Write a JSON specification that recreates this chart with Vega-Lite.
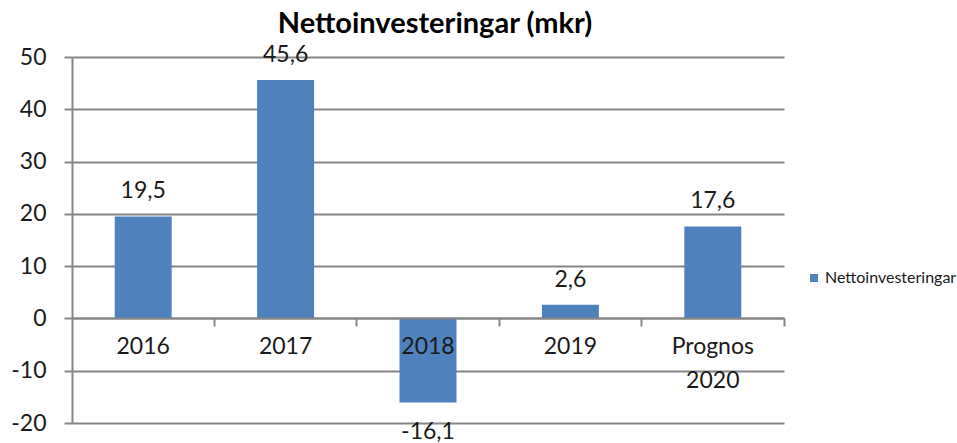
{
  "$schema": "https://vega.github.io/schema/vega-lite/v6.json",
  "autosize": {"type": "none"},
  "width": 712,
  "height": 366,
  "padding": {"left": 72, "top": 57, "right": 173, "bottom": 20},
  "background": "white",
  "title": {
    "text": "Nettoinvesteringar (mkr)",
    "font": "Lato",
    "fontSize": 29,
    "fontWeight": "bold",
    "color": "#000000",
    "anchor": "middle",
    "offset": 5,
    "dx": 7
  },
  "config": {
    "view": {"stroke": null},
    "locale": {
      "number": {"decimal": ",", "thousands": " ", "grouping": [3], "currency": ["", " kr"], "minus": "-"}
    },
    "font": "Lato"
  },
  "data": {
    "values": [
      {"year": "2016", "value": 19.5, "series": "Nettoinvesteringar"},
      {"year": "2017", "value": 45.6, "series": "Nettoinvesteringar"},
      {"year": "2018", "value": -16.1, "series": "Nettoinvesteringar"},
      {"year": "2019", "value": 2.6, "series": "Nettoinvesteringar"},
      {"year": "Prognos 2020", "value": 17.6, "series": "Nettoinvesteringar"}
    ]
  },
  "encoding": {
    "x": {
      "field": "year",
      "type": "nominal",
      "sort": null,
      "scale": {"paddingInner": 0.6, "paddingOuter": 0.3},
      "axis": {
        "title": null,
        "offset": -105,
        "zindex": 1,
        "domainColor": "#868686",
        "domainWidth": 2,
        "tickColor": "#868686",
        "tickWidth": 2,
        "tickSize": 8,
        "bandPosition": 1.75,
        "labelAngle": 0,
        "labelFont": "Lato",
        "labelFontSize": 23,
        "labelColor": "#1a1a1a",
        "labelPadding": 9,
        "labelBaseline": "top",
        "labelLineHeight": 34,
        "labelExpr": "datum.value == 'Prognos 2020' ? ['Prognos', '2020'] : datum.value"
      }
    },
    "y": {
      "field": "value",
      "type": "quantitative",
      "scale": {"domain": [-20, 50], "nice": false, "zero": false},
      "axis": {
        "title": null,
        "values": [-20, -10, 0, 10, 20, 30, 40, 50],
        "grid": true,
        "gridColor": "#868686",
        "gridWidth": 2,
        "domainColor": "#868686",
        "domainWidth": 2,
        "tickColor": "#868686",
        "tickWidth": 2,
        "tickSize": 8,
        "labelFont": "Lato",
        "labelFontSize": 23,
        "labelColor": "#1a1a1a",
        "labelPadding": 18,
        "format": "d"
      }
    }
  },
  "layer": [
    {
      "mark": {"type": "bar"},
      "encoding": {
        "color": {
          "field": "series",
          "type": "nominal",
          "scale": {"range": ["#4F81BD"]},
          "legend": {
            "title": null,
            "orient": "none",
            "legendX": 734,
            "legendY": 213,
            "symbolType": "square",
            "symbolSize": 64,
            "symbolStrokeWidth": 0,
            "labelFont": "Lato",
            "labelFontSize": 16,
            "labelColor": "#1a1a1a",
            "labelOffset": 3
          }
        }
      }
    },
    {
      "transform": [{"filter": "datum.value >= 0"}],
      "mark": {"type": "text", "baseline": "middle", "dy": -25, "fontSize": 23, "color": "#1a1a1a", "font": "Lato"},
      "encoding": {"text": {"field": "value", "type": "quantitative", "format": ".1f"}}
    },
    {
      "transform": [{"filter": "datum.value < 0"}],
      "mark": {"type": "text", "baseline": "middle", "dy": 29, "fontSize": 23, "color": "#1a1a1a", "font": "Lato"},
      "encoding": {"text": {"field": "value", "type": "quantitative", "format": ".1f"}}
    }
  ]
}
